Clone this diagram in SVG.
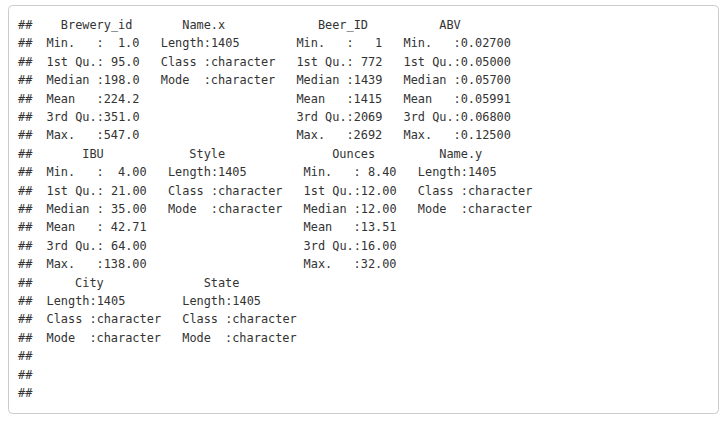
<svg xmlns="http://www.w3.org/2000/svg" width="728" height="422" viewBox="0 0 728 422">
<style>
.out{font-family:"DejaVu Sans Mono","Liberation Mono",monospace;font-size:11.9px;fill:#333333}
</style>
<rect x="0" y="0" width="728" height="422" fill="#ffffff"/>
<rect x="8.5" y="5.5" width="710" height="408" rx="4" ry="4" fill="#ffffff" stroke="#cccccc" stroke-width="1"/>
<g id="output" class="out">
<text y="29"><tspan x="18">##</tspan><tspan x="60.84">Brewery_id</tspan><tspan x="182.22">Name.x</tspan><tspan x="317.88">Beer_ID</tspan><tspan x="439.26">ABV</tspan></text>
<text y="47.4"><tspan x="18">##</tspan><tspan x="46.56">Min.</tspan><tspan x="96.54">:</tspan><tspan x="117.96">1.0</tspan><tspan x="160.8">Length:1405</tspan><tspan x="296.46">Min.</tspan><tspan x="346.44">:</tspan><tspan x="375">1</tspan><tspan x="403.56">Min.</tspan><tspan x="453.54">:0.02700</tspan></text>
<text y="65.8"><tspan x="18">##</tspan><tspan x="46.56">1st Qu.: 95.0</tspan><tspan x="160.8">Class :character</tspan><tspan x="296.46">1st Qu.: 772</tspan><tspan x="403.56">1st Qu.:0.05000</tspan></text>
<text y="84.2"><tspan x="18">##</tspan><tspan x="46.56">Median :198.0</tspan><tspan x="160.8">Mode</tspan><tspan x="203.64">:character</tspan><tspan x="296.46">Median :1439</tspan><tspan x="403.56">Median :0.05700</tspan></text>
<text y="102.6"><tspan x="18">##</tspan><tspan x="46.56">Mean</tspan><tspan x="96.54">:224.2</tspan><tspan x="296.46">Mean</tspan><tspan x="346.44">:1415</tspan><tspan x="403.56">Mean</tspan><tspan x="453.54">:0.05991</tspan></text>
<text y="121"><tspan x="18">##</tspan><tspan x="46.56">3rd Qu.:351.0</tspan><tspan x="296.46">3rd Qu.:2069</tspan><tspan x="403.56">3rd Qu.:0.06800</tspan></text>
<text y="139.4"><tspan x="18">##</tspan><tspan x="46.56">Max.</tspan><tspan x="96.54">:547.0</tspan><tspan x="296.46">Max.</tspan><tspan x="346.44">:2692</tspan><tspan x="403.56">Max.</tspan><tspan x="453.54">:0.12500</tspan></text>
<text y="157.8"><tspan x="18">##</tspan><tspan x="82.26">IBU</tspan><tspan x="189.36">Style</tspan><tspan x="332.16">Ounces</tspan><tspan x="439.26">Name.y</tspan></text>
<text y="176.2"><tspan x="18">##</tspan><tspan x="46.56">Min.</tspan><tspan x="96.54">:</tspan><tspan x="117.96">4.00</tspan><tspan x="167.94">Length:1405</tspan><tspan x="303.6">Min.</tspan><tspan x="353.58">: 8.40</tspan><tspan x="417.84">Length:1405</tspan></text>
<text y="194.6"><tspan x="18">##</tspan><tspan x="46.56">1st Qu.: 21.00</tspan><tspan x="167.94">Class :character</tspan><tspan x="303.6">1st Qu.:12.00</tspan><tspan x="417.84">Class :character</tspan></text>
<text y="213"><tspan x="18">##</tspan><tspan x="46.56">Median : 35.00</tspan><tspan x="167.94">Mode</tspan><tspan x="210.78">:character</tspan><tspan x="303.6">Median :12.00</tspan><tspan x="417.84">Mode</tspan><tspan x="460.68">:character</tspan></text>
<text y="231.4"><tspan x="18">##</tspan><tspan x="46.56">Mean</tspan><tspan x="96.54">: 42.71</tspan><tspan x="303.6">Mean</tspan><tspan x="353.58">:13.51</tspan></text>
<text y="249.8"><tspan x="18">##</tspan><tspan x="46.56">3rd Qu.: 64.00</tspan><tspan x="303.6">3rd Qu.:16.00</tspan></text>
<text y="268.2"><tspan x="18">##</tspan><tspan x="46.56">Max.</tspan><tspan x="96.54">:138.00</tspan><tspan x="303.6">Max.</tspan><tspan x="353.58">:32.00</tspan></text>
<text y="286.6"><tspan x="18">##</tspan><tspan x="75.12">City</tspan><tspan x="203.64">State</tspan></text>
<text y="305"><tspan x="18">##</tspan><tspan x="46.56">Length:1405</tspan><tspan x="182.22">Length:1405</tspan></text>
<text y="323.4"><tspan x="18">##</tspan><tspan x="46.56">Class :character</tspan><tspan x="182.22">Class :character</tspan></text>
<text y="341.8"><tspan x="18">##</tspan><tspan x="46.56">Mode</tspan><tspan x="89.4">:character</tspan><tspan x="182.22">Mode</tspan><tspan x="225.06">:character</tspan></text>
<text y="360.2" x="18">##</text>
<text y="378.6" x="18">##</text>
<text y="397" x="18">##</text>
</g>
</svg>
